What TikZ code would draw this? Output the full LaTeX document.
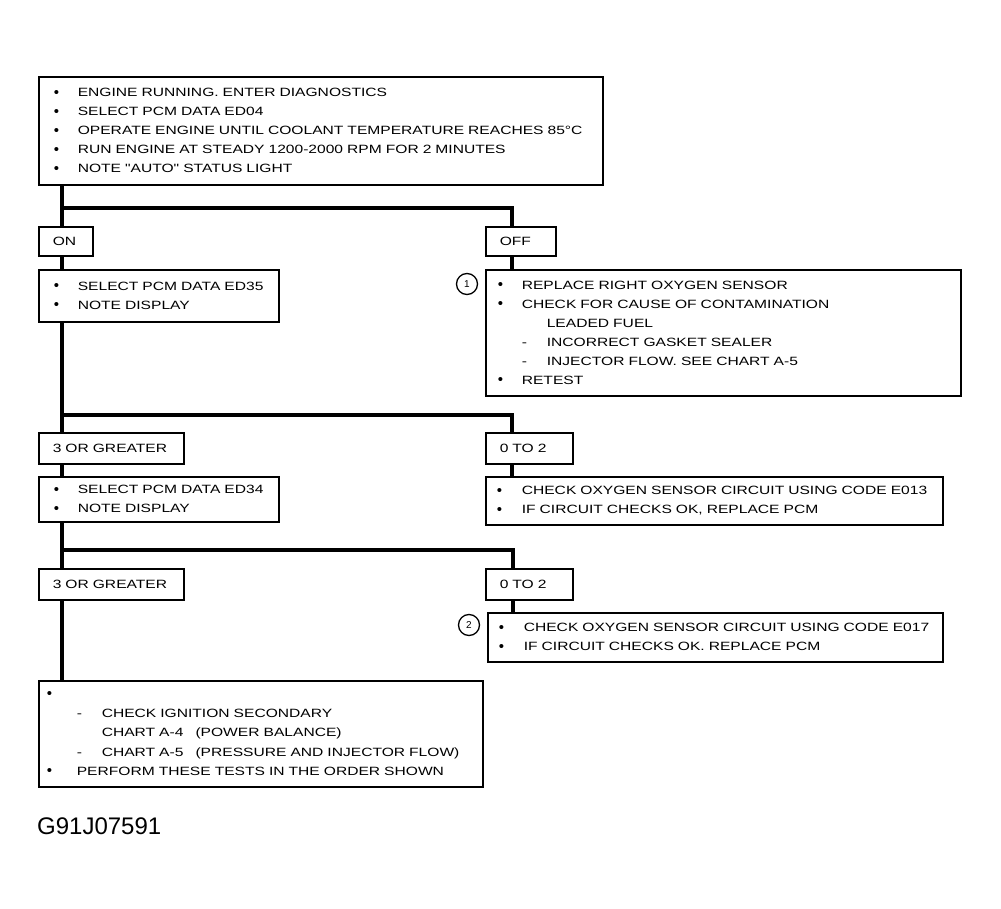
\documentclass[tikz,border=0pt]{standalone}
\usepackage{fontspec}
\newfontfamily\wf[FakeStretch=1.3]{Liberation Sans}
\newfontfamily\idf{Liberation Sans}
\newlength\lo
\newlength\bw
\newcommand\dotb{{\idf\fontsize{15}{15}\selectfont\raisebox{-0.5pt}{\textbullet}}}
\newcommand\bl[1]{\mbox{\hspace*{\lo}\makebox[\bw][l]{\dotb}#1}}
\newcommand\sbl[1]{\mbox{\hspace*{\lo}\hspace*{\bw}\makebox[25pt][l]{-}#1}}
\newcommand\nbl[1]{\mbox{\hspace*{\lo}\hspace*{\bw}\hspace*{25pt}#1}}
\newcommand\lb[1]{\mbox{\hspace*{14pt}#1}}
\tikzset{
  box/.style={draw, line width=1.6pt, anchor=north west, inner xsep=0pt, inner ysep=0pt,
    align=left, font=\wf\fontsize{12}{19}\selectfont},
  lbl/.style={box, text width=#1},
  conn/.style={line width=3.5pt},
  num/.style={circle, draw, line width=1.3pt, minimum size=21pt, inner sep=0pt,
    font=\idf\fontsize{10}{10}\selectfont},
}
\begin{document}
\begin{tikzpicture}[x=1pt,y=-1pt]
\useasboundingbox[fill=white] (0,0) rectangle (1001,909);
% boxes
\node[box, text width=564pt, minimum height=108pt] (top) at (38,76)
 {\setlength\lo{15pt}\setlength\bw{24pt}%
  \bl{ENGINE RUNNING. ENTER DIAGNOSTICS}\\
  \bl{SELECT PCM DATA ED04}\\
  \bl{OPERATE ENGINE UNTIL COOLANT TEMPERATURE REACHES 85°C}\\
  \bl{RUN ENGINE AT STEADY 1200-2000 RPM FOR 2 MINUTES}\\
  \bl{NOTE "AUTO" STATUS LIGHT}};
\node[lbl=54pt, minimum height=29pt] (on) at (38,226) {\lb{ON}};
\node[lbl=70pt, minimum height=29pt] (off) at (485,226) {\lb{OFF}};
\node[box, text width=240pt, minimum height=52pt] (b2) at (38,269)
 {\setlength\lo{15pt}\setlength\bw{24pt}%
  \bl{SELECT PCM DATA ED35}\\
  \bl{NOTE DISPLAY}};
\node[box, text width=475pt, minimum height=126pt] (b3) at (485,269)
 {\setlength\lo{12pt}\setlength\bw{24pt}%
  \bl{REPLACE RIGHT OXYGEN SENSOR}\\
  \bl{CHECK FOR CAUSE OF CONTAMINATION}\\
  \nbl{LEADED FUEL}\\
  \sbl{INCORRECT GASKET SEALER}\\
  \sbl{INJECTOR FLOW. SEE CHART A-5}\\
  \bl{RETEST}};
\node[num] (n1) at (467,284) {1};
\node[lbl=145pt, minimum height=31pt] (g1) at (38,432) {\lb{3 OR GREATER}};
\node[lbl=87pt, minimum height=31pt] (z1) at (485,432) {\lb{0 TO 2}};
\node[box, text width=240pt, minimum height=45pt] (b4) at (38,476)
 {\setlength\lo{15pt}\setlength\bw{24pt}%
  \bl{SELECT PCM DATA ED34}\\
  \bl{NOTE DISPLAY}};
\node[box, text width=457pt, minimum height=48pt] (b5) at (485,476)
 {\setlength\lo{11pt}\setlength\bw{25pt}%
  \bl{CHECK OXYGEN SENSOR CIRCUIT USING CODE E013}\\
  \bl{IF CIRCUIT CHECKS OK, REPLACE PCM}};
\node[lbl=145pt, minimum height=31pt] (g2) at (38,568) {\lb{3 OR GREATER}};
\node[lbl=87pt, minimum height=31pt] (z2) at (485,568) {\lb{0 TO 2}};
\node[box, text width=455pt, minimum height=49pt] (b7) at (487,612)
 {\setlength\lo{11pt}\setlength\bw{25pt}%
  \bl{CHECK OXYGEN SENSOR CIRCUIT USING CODE E017}\\
  \bl{IF CIRCUIT CHECKS OK. REPLACE PCM}};
\node[num] (n2) at (469,625) {2};
\node[box, text width=444pt, minimum height=106pt, font=\wf\fontsize{12}{19.3}\selectfont] (b6) at (38,680)
 {\setlength\lo{8pt}\setlength\bw{30pt}%
  \bl{}\\
  \sbl{CHECK IGNITION SECONDARY}\\
  \nbl{CHART A-4\hspace{12pt}(POWER BALANCE)}\\
  \sbl{CHART A-5\hspace{12pt}(PRESSURE AND INJECTOR FLOW)}\\
  \bl{PERFORM THESE TESTS IN THE ORDER SHOWN}};
\node[anchor=base west, inner sep=0pt, font=\idf\fontsize{24}{24}\selectfont] (id) at (37,834) {G91J07591};
% junctions
\coordinate (j1) at (62,208);
\coordinate (j1r) at (512,208);
\coordinate (j2) at (62,415);
\coordinate (j2r) at (512,415);
\coordinate (j3) at (62,550);
\coordinate (j3r) at (513,550);
% connectors
\draw[conn] (top.south -| j1) -- (on.north -| j1);
\draw[conn] (j1) -- (j1r) -- (off.north -| j1r);
\draw[conn] (on.south -| j1) -- (b2.north -| j1);
\draw[conn] (off.south -| j1r) -- (b3.north -| j1r);
\draw[conn] (b2.south -| j1) -- (g1.north -| j1);
\draw[conn] (j2) -- (j2r) -- (z1.north -| j2r);
\draw[conn] (g1.south -| j1) -- (b4.north -| j1);
\draw[conn] (z1.south -| j2r) -- (b5.north -| j2r);
\draw[conn] (b4.south -| j1) -- (g2.north -| j1);
\draw[conn] (j3) -- (j3r) -- (z2.north -| j3r);
\draw[conn] (g2.south -| j1) -- (b6.north -| j1);
\draw[conn] (z2.south -| j3r) -- (b7.north -| j3r);
\end{tikzpicture}
\end{document}
